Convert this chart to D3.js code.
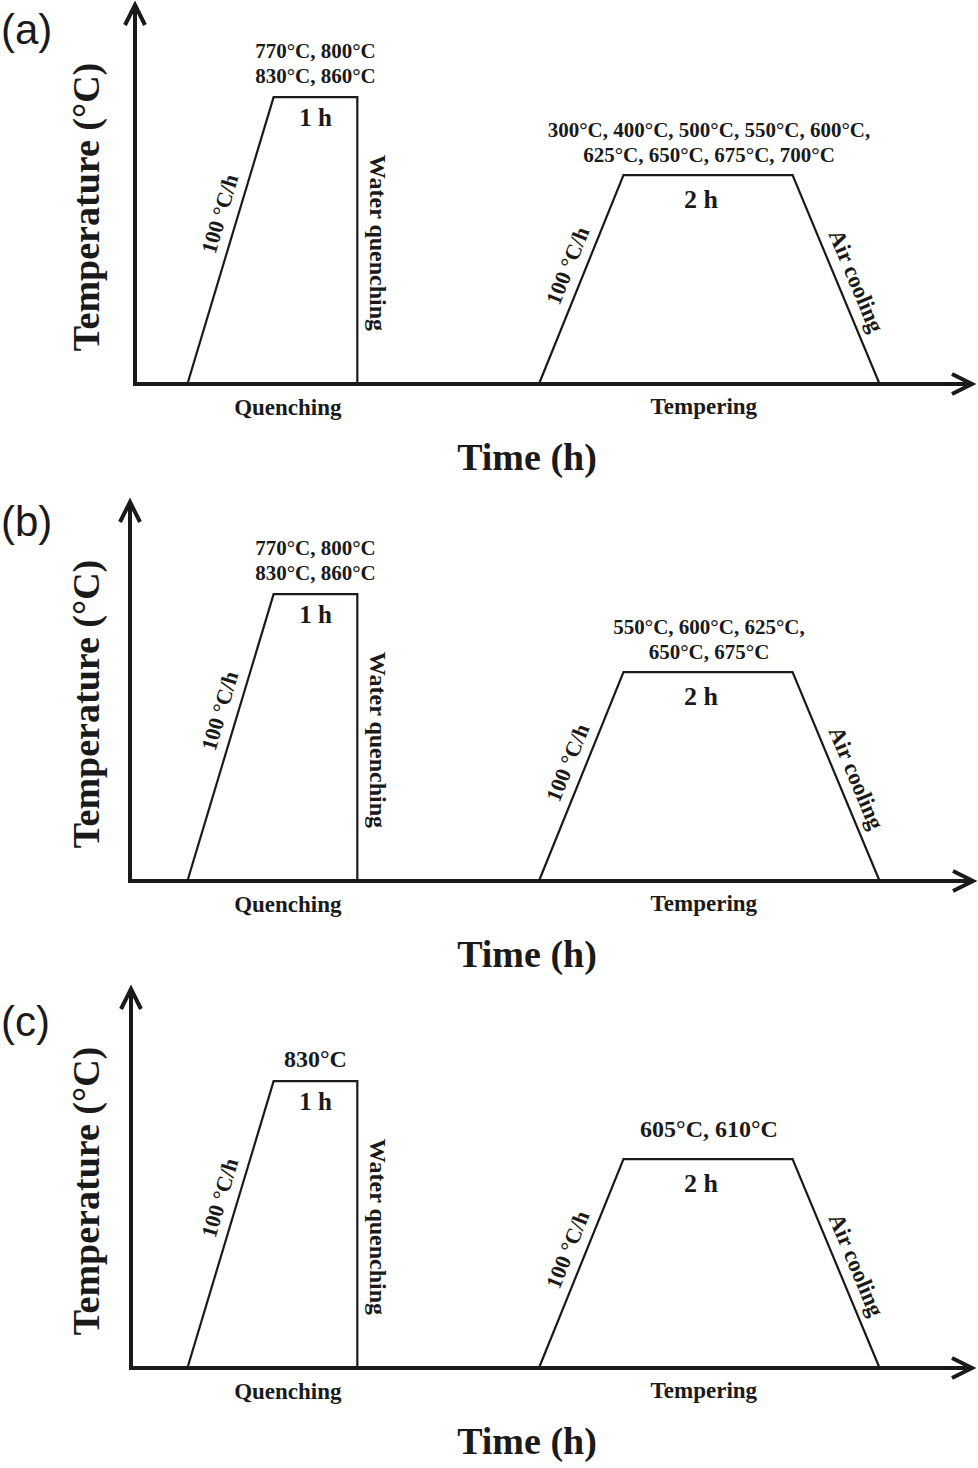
<!DOCTYPE html>
<html>
<head>
<meta charset="utf-8">
<script src="https://cdn.jsdelivr.net/npm/d3@7/dist/d3.min.js"></script>
<style>
  html, body { margin: 0; padding: 0; background: #fff; }
  svg { display: block; }
</style>
</head>
<body>
<svg id="chart" width="978" height="1468"></svg>
<script>
// ---------------- DATA ----------------
const panelLabels = ["(a)", "(b)", "(c)"];
const quenchTempLines = [
  ["770°C, 800°C", "830°C, 860°C"],
  ["770°C, 800°C", "830°C, 860°C"],
  ["830°C"]
];
const temperTempLines = [
  ["300°C, 400°C, 500°C, 550°C, 600°C,", "625°C, 650°C, 675°C, 700°C"],
  ["550°C, 600°C, 625°C,", "650°C, 675°C"],
  ["605°C, 610°C"]
];
const stageNames = ["Quenching", "Tempering"];
const holdLabels = ["1 h", "2 h"];
const rampLabel = "100 °C/h";
const coolLabels = ["Water quenching", "Air cooling"];
const xTitle = "Time (h)";
const yTitle = "Temperature (°C)";
// schematic heat-treatment profile: time (schematic units) and temperature (schematic °C)
const quenchTime = [0.65, 1.68, 2.68, 2.68];
const quenchTemp = [0, 757, 757, 0];
const temperTime = [4.85, 5.86, 7.88, 8.92];
const temperTemp = [0, 551, 551, 0];

// ---------------- LAYOUT ----------------
const axisYs = [384, 881, 1368];
const axisXs = [135, 130, 131];
const tipXs = [972, 973, 972];
const labelYs = [44, 536, 1036];
const axisHeight = 379;
const serif = "'Liberation Serif', 'Times New Roman', serif";
const ink = "#1a1a1a";

const svg = d3.select("#chart");

panelLabels.forEach((lab, i) => {
  const axisY = axisYs[i], axisX = axisXs[i], tipX = tipXs[i];
  const topY = axisY - axisHeight;
  const x = d3.scaleLinear().domain([0, 10]).range([133, 970]);
  const y = d3.scaleLinear().domain([0, 1000]).range([axisY, topY]);
  const g = svg.append("g");
  const big = i === 2;

  // panel label
  g.append("text").attr("x", 1).attr("y", labelYs[i])
    .attr("font-family", "'Liberation Sans', Arial, sans-serif")
    .attr("font-size", 42).attr("fill", ink).text(lab);

  // axes
  g.append("line").attr("x1", axisX).attr("y1", axisY + 2).attr("x2", axisX).attr("y2", topY + 1)
    .attr("stroke", ink).attr("stroke-width", 4);
  g.append("line").attr("x1", axisX - 2).attr("y1", axisY).attr("x2", tipX - 1).attr("y2", axisY)
    .attr("stroke", ink).attr("stroke-width", 4);
  g.append("path").attr("d", `M${axisX - 10},${topY + 20} L${axisX},${topY} L${axisX + 10},${topY + 20}`)
    .attr("fill", "none").attr("stroke", ink).attr("stroke-width", 4).attr("stroke-linejoin", "miter");
  g.append("path").attr("d", `M${tipX - 20},${axisY - 10} L${tipX},${axisY} L${tipX - 20},${axisY + 10}`)
    .attr("fill", "none").attr("stroke", ink).attr("stroke-width", 4).attr("stroke-linejoin", "miter");

  // profiles
  const line = d3.line().x(d => x(d[0])).y(d => y(d[1]));
  const qPts = quenchTime.map((t, k) => [t, quenchTemp[k]]);
  const tPts = temperTime.map((t, k) => [t, temperTemp[k]]);
  [qPts, tPts].forEach(pts => {
    g.append("path").attr("d", line(pts)).attr("fill", "none")
      .attr("stroke", ink).attr("stroke-width", 2.2).attr("stroke-linejoin", "miter");
  });

  const txt = (px, py, s, size, opts = {}) => {
    const t = g.append("text").attr("x", px).attr("y", py)
      .attr("font-family", serif).attr("font-weight", "bold")
      .attr("font-size", size).attr("fill", ink)
      .attr("text-anchor", opts.anchor || "middle").text(s);
    if (opts.rotate !== undefined) {
      t.attr("transform", `rotate(${opts.rotate},${px},${py})`).attr("dominant-baseline", "central");
    }
    return t;
  };

  // hold temperatures
  const qHoldY = y(quenchTemp[1]);
  const qMid = (x(quenchTime[1]) + x(quenchTime[2])) / 2;
  const qLines = quenchTempLines[i];
  const qSize = big ? 24 : 21;
  qLines.forEach((s, k) => {
    txt(qMid, qHoldY - 14 - (qLines.length - 1 - k) * 25, s, qSize);
  });
  const tHoldY = y(temperTemp[1]);
  const tMid = (x(temperTime[1]) + x(temperTime[2])) / 2;
  const tLines = temperTempLines[i];
  const tSize = big ? 24 : 21;
  tLines.forEach((s, k) => {
    txt(tMid + 1, tHoldY - (big ? 22 : 13) - (tLines.length - 1 - k) * 25, s, tSize);
  });

  // hold times
  txt(qMid, qHoldY + 29, holdLabels[0], 25);
  txt(tMid - 7, tHoldY + 33, holdLabels[1], 26);

  // stage names
  txt(x(1.85), axisY + 31, stageNames[0], 23);
  txt(x(6.82), axisY + 30, stageNames[1], 23);

  // axis titles
  txt(527, axisY + 86, xTitle, 38);
  txt(86, axisY - 177, yTitle, 38, { rotate: -90 });

  // water quenching
  txt(x(quenchTime[3]) + 21, axisY - 141, coolLabels[0], 24, { rotate: 90 });

  // labels along slanted segments
  const along = (p0, p1, frac, offset, s, size) => {
    const x0 = x(p0[0]), y0 = y(p0[1]), x1 = x(p1[0]), y1 = y(p1[1]);
    const px = x0 + (x1 - x0) * frac, py = y0 + (y1 - y0) * frac;
    const dx = x1 - x0, dy = y1 - y0, len = Math.hypot(dx, dy);
    const nx = dy / len, ny = -dx / len;
    const cx = px + nx * offset, cy = py + ny * offset;
    const ang = Math.atan2(dy, dx) * 180 / Math.PI;
    txt(cx, cy, s, size, { rotate: ang });
  };
  along(qPts[0], qPts[1], 0.575, 18, rampLabel, 22);
  along(tPts[0], tPts[1], 0.535, 18, rampLabel, 22);
  along(tPts[2], tPts[3], 0.54, 18, coolLabels[1], 23);
});
</script>
</body>
</html>
